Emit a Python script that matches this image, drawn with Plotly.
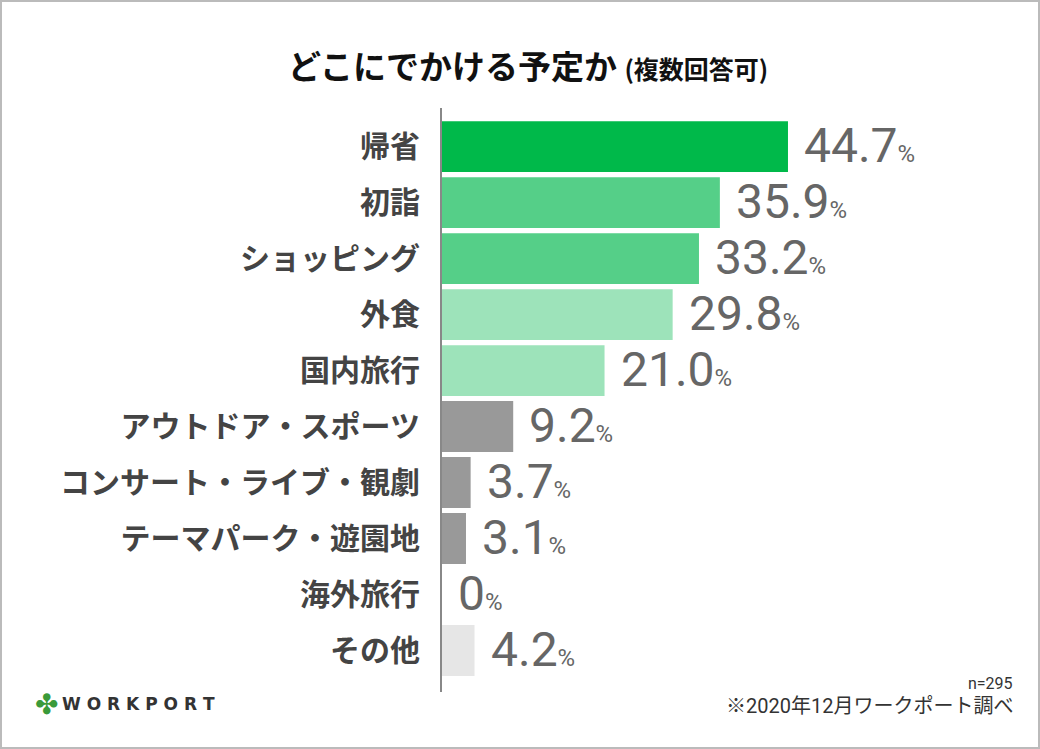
import plotly.graph_objects as go

categories = ["帰省", "初詣", "ショッピング", "外食", "国内旅行",
              "アウトドア・スポーツ", "コンサート・ライブ・観劇",
              "テーマパーク・遊園地", "海外旅行", "その他"]
values = [44.7, 35.9, 33.2, 29.8, 21.0, 9.2, 3.7, 3.1, 0, 4.2]
bar_colors = ["#00b94a", "#55cf88", "#55cf88", "#9de3ba", "#9de3ba",
              "#999999", "#999999", "#999999", "#999999", "#e6e6e6"]
title_main = "どこにでかける予定か"
title_sub = "(複数回答可)"
sample_note = "n=295"
source_note = "※2020年12月ワークポート調べ"

W, H = 1040, 749
L, R, T, B = 442, 40, 108, 57
PW, PH = W - L - R, H - T - B


def px(xp):
    return (xp - L) / PW


def py(yp):
    return (H - B - yp) / PH


fig = go.Figure()
fig.add_trace(go.Bar(
    y=categories, x=values, orientation="h",
    marker=dict(color=bar_colors, line=dict(width=0)),
    hoverinfo="skip",
))

num_font = "Liberation Sans Narrow, Roboto, Arial Narrow, sans-serif"
annotations = []
for c, v in zip(categories, values):
    s = f"{v:.1f}" if v else "0"
    annotations.append(dict(
        x=v, y=c, xref="x", yref="y", xanchor="left", yanchor="middle",
        xshift=14, yshift=1, showarrow=False,
        text=f"{s}<span style='font-size:24px'>%</span>",
        font=dict(family=num_font, size=48, color="#666666"),
    ))

annotations.append(dict(
    x=px(528), y=py(65), xref="paper", yref="paper", xanchor="center", yanchor="middle",
    showarrow=False,
    text=f"<b>{title_main}</b> <span style='font-size:25px'><b>{title_sub}</b></span>",
    font=dict(family="Noto Sans CJK JP", size=33, color="#111111"),
))
annotations.append(dict(
    x=px(1014), y=py(683), xref="paper", yref="paper", xanchor="right", yanchor="middle",
    showarrow=False, text=sample_note, borderpad=0,
    font=dict(family="Roboto, Noto Sans CJK JP", size=16, color="#333333"),
))
annotations.append(dict(
    x=px(1014), y=py(706), xref="paper", yref="paper", xanchor="right", yanchor="middle",
    showarrow=False, text=source_note, borderpad=0,
    font=dict(family="Roboto, Noto Sans CJK JP", size=20, color="#333333"),
))
annotations.append(dict(
    x=px(33), y=py(704), xref="paper", yref="paper", xanchor="left", yanchor="middle",
    showarrow=False, text="✤",
    font=dict(family="DejaVu Sans", size=28, color="#3a9a3a"),
))
annotations.append(dict(
    x=px(60), y=py(704), xref="paper", yref="paper", xanchor="left", yanchor="middle",
    showarrow=False, text="<b>W O R K P O R T</b>",
    font=dict(family="DejaVu Sans", size=17, color="#333333"),
))

fig.update_layout(
    width=W, height=H,
    margin=dict(l=L, r=R, t=T, b=B, autoexpand=False),
    paper_bgcolor="white", plot_bgcolor="white",
    bargap=0.09, showlegend=False,
    xaxis=dict(range=[0, PW / 7.74], visible=False, fixedrange=True),
    yaxis=dict(
        range=[9.74, -0.69], showgrid=False, zeroline=False,
        showline=True, linecolor="#888888", linewidth=2,
        ticks="", ticklabelstandoff=14,
        tickfont=dict(family="Noto Sans CJK JP", size=30, color="#444444", weight="bold"),
        fixedrange=True,
    ),
    annotations=annotations,
    shapes=[dict(
        type="rect", xref="paper", yref="paper",
        x0=px(1), x1=px(1039), y0=py(748), y1=py(1),
        line=dict(color="#bbbbbb", width=2), fillcolor="rgba(0,0,0,0)", layer="above",
    )],
)

fig.write_html("out.html", config={"displayModeBar": False},
               post_script="document.body.style.margin='0';document.body.style.padding='0';")
